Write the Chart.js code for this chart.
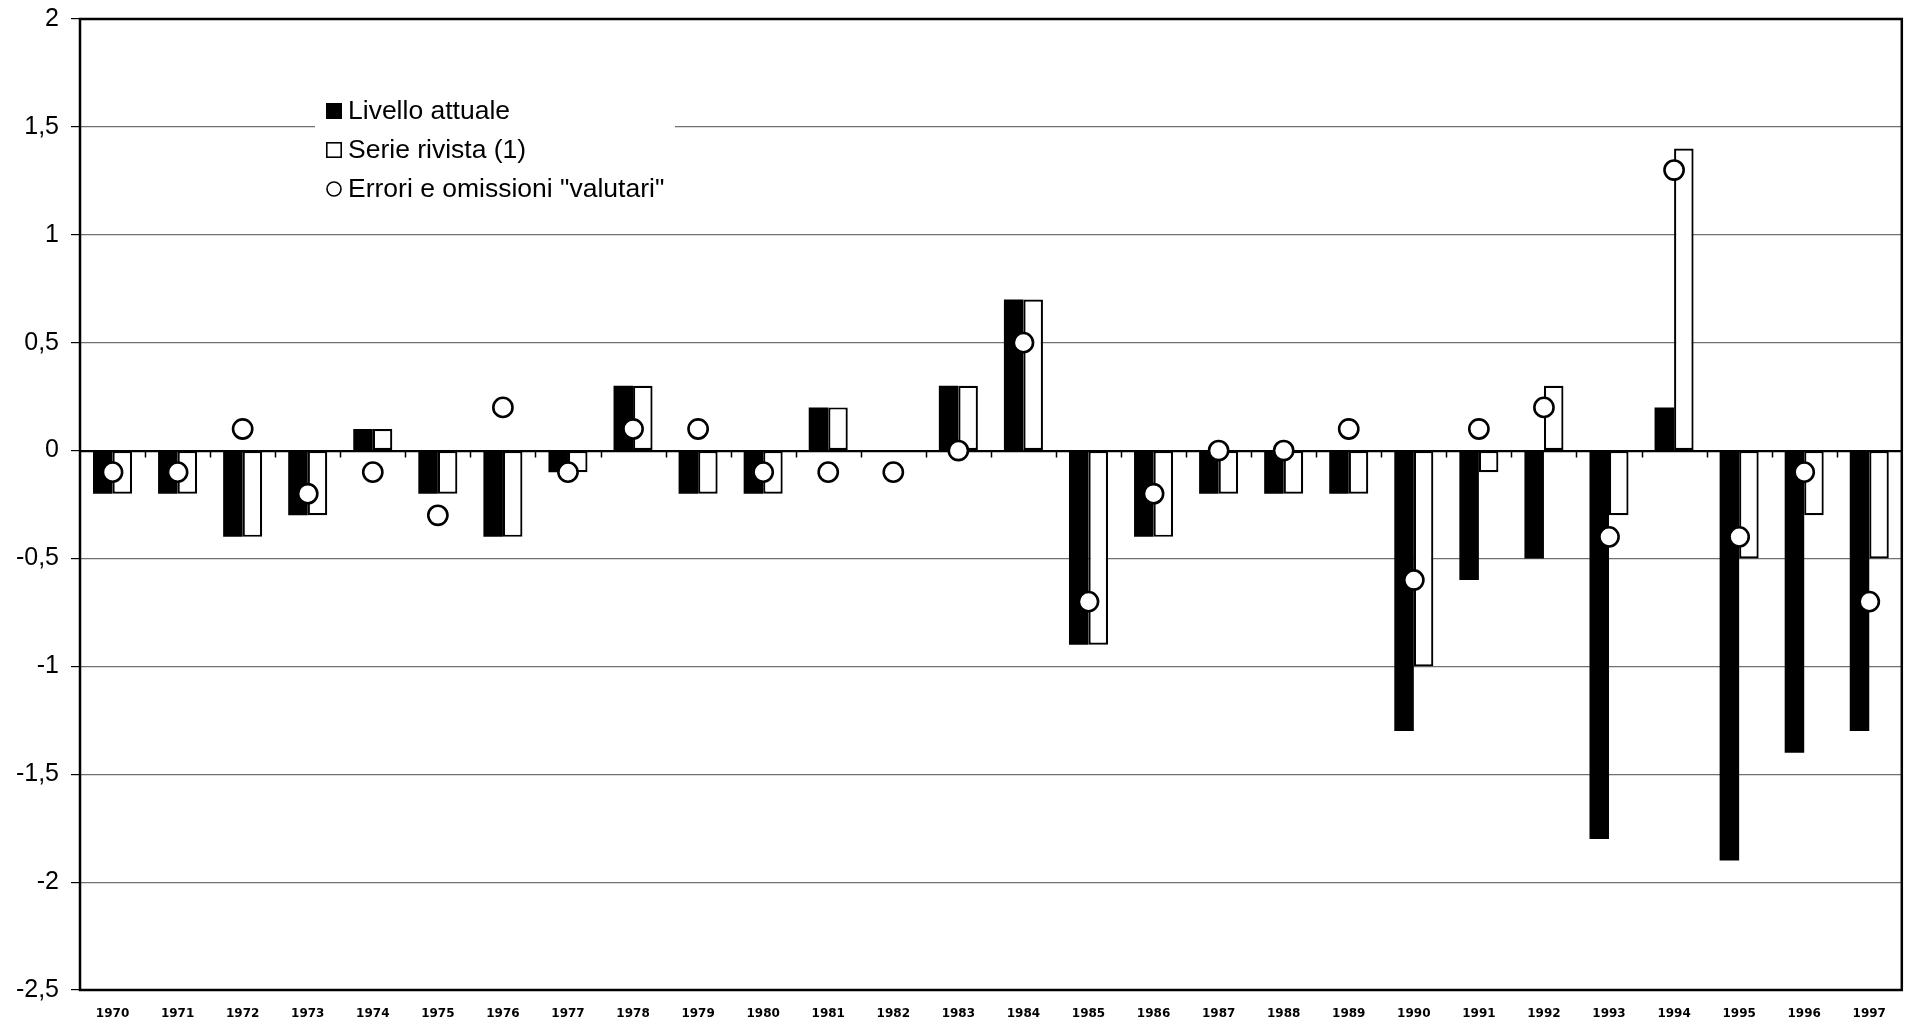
<!DOCTYPE html>
<html>
<head>
<meta charset="utf-8">
<script src="https://cdn.jsdelivr.net/npm/chart.js@4/dist/chart.umd.min.js"></script>
<style>
  html, body { margin: 0; padding: 0; background: #fff; }
  #c { display: block; }
</style>
</head>
<body>
<canvas id="c" width="1914" height="1024"></canvas>
<script>
// Anni
const years = ['1970','1971','1972','1973','1974','1975','1976','1977','1978','1979',
  '1980','1981','1982','1983','1984','1985','1986','1987','1988','1989',
  '1990','1991','1992','1993','1994','1995','1996','1997'];

// Livello attuale
const livelloAttuale = [-0.2,-0.2,-0.4,-0.3,0.1,-0.2,-0.4,-0.1,0.3,-0.2,
  -0.2,0.2,0,0.3,0.7,-0.9,-0.4,-0.2,-0.2,-0.2,
  -1.3,-0.6,-0.5,-1.8,0.2,-1.9,-1.4,-1.3];

// Serie rivista (1)
const serieRivista = [-0.2,-0.2,-0.4,-0.3,0.1,-0.2,-0.4,-0.1,0.3,-0.2,
  -0.2,0.2,0,0.3,0.7,-0.9,-0.4,-0.2,-0.2,-0.2,
  -1.0,-0.1,0.3,-0.3,1.4,-0.5,-0.3,-0.5];

// Errori e omissioni "valutari"
const erroriValutari = [-0.1,-0.1,0.1,-0.2,-0.1,-0.3,0.2,-0.1,0.1,0.1,
  -0.1,-0.1,-0.1,0.0,0.5,-0.7,-0.2,0.0,0.0,0.1,
  -0.6,0.1,0.2,-0.4,1.3,-0.4,-0.1,-0.7];

// Asse verticale
const yMin = -2.5;
const yMax = 2;
const yStep = 0.5;

// Linea dello zero con tacche tra le categorie, e cornice dell'area del grafico
const zeroAndFrame = {
  id: 'zeroAndFrame',
  beforeDatasetsDraw(chart) {
    const { ctx, chartArea: a, scales: { x, y } } = chart;
    const y0 = Math.round(y.getPixelForValue(0)) + 0.5;
    const step = x.getPixelForValue(1) - x.getPixelForValue(0);
    ctx.save();
    ctx.strokeStyle = '#000';
    ctx.lineWidth = 1.5;
    ctx.beginPath();
    ctx.moveTo(a.left, y0);
    ctx.lineTo(a.right, y0);
    for (let i = 1; i < years.length; i++) {
      const px = Math.round(x.getPixelForValue(i) - step / 2) + 0.5;
      ctx.moveTo(px, y0);
      ctx.lineTo(px, y0 + 6);
    }
    ctx.stroke();
    ctx.restore();
  },
  afterDatasetsDraw(chart) {
    const { ctx, chartArea: a } = chart;
    ctx.save();
    ctx.strokeStyle = '#000';
    ctx.lineWidth = 2.5;
    ctx.strokeRect(a.left, a.top, a.right - a.left, a.bottom - a.top);
    ctx.restore();
  }
};

// Legenda interna all'area del grafico, su fondo bianco
const innerLegend = {
  id: 'innerLegend',
  afterDraw(chart) {
    const { ctx } = chart;
    const ds = chart.data.datasets;
    const bx = 315, by = 92, bw = 360, bh = 116;
    ctx.save();
    ctx.fillStyle = '#fff';
    ctx.fillRect(bx, by, bw, bh);
    ctx.font = '26.5px "Liberation Sans", Arial, sans-serif';
    ctx.textBaseline = 'middle';
    ctx.textAlign = 'left';
    const rows = [111, 150, 189];
    ds.forEach((d, k) => {
      const cy = rows[k];
      const sx = 326, sz = 16;
      ctx.lineWidth = 1.6;
      ctx.strokeStyle = '#000';
      if (d.type === 'line') {
        ctx.beginPath();
        ctx.arc(sx + sz / 2, cy, sz / 2 - 1, 0, Math.PI * 2);
        ctx.fillStyle = '#fff';
        ctx.fill();
        ctx.stroke();
      } else if (d.backgroundColor === '#000') {
        ctx.fillStyle = '#000';
        ctx.fillRect(sx, cy - sz / 2, sz, sz);
      } else {
        ctx.fillStyle = '#fff';
        ctx.fillRect(sx, cy - sz / 2, sz, sz);
        ctx.strokeRect(sx + 0.8, cy - sz / 2 + 0.8, sz - 1.6, sz - 1.6);
      }
      ctx.fillStyle = '#000';
      ctx.fillText(d.label, 348, cy + 1);
    });
    ctx.restore();
  }
};

new Chart(document.getElementById('c'), {
  data: {
    labels: years,
    datasets: [
      {
        type: 'bar',
        label: 'Livello attuale',
        data: livelloAttuale,
        backgroundColor: '#000',
        borderWidth: 0,
        categoryPercentage: 0.6,
        barPercentage: 1.0,
        order: 1
      },
      {
        type: 'bar',
        label: 'Serie rivista (1)',
        data: serieRivista,
        backgroundColor: '#fff',
        borderColor: '#000',
        borderWidth: 2.2,
        borderSkipped: false,
        categoryPercentage: 0.6,
        barPercentage: 1.0,
        order: 2
      },
      {
        type: 'line',
        label: 'Errori e omissioni "valutari"',
        data: erroriValutari,
        showLine: false,
        pointStyle: 'circle',
        pointRadius: 9.6,
        pointBorderWidth: 2.6,
        pointBackgroundColor: '#fff',
        pointBorderColor: '#000',
        order: 0
      }
    ]
  },
  options: {
    responsive: false,
    animation: false,
    devicePixelRatio: 1,
    layout: { padding: { top: 19, right: 11, left: 0, bottom: 0 } },
    plugins: {
      legend: { display: false },
      tooltip: { enabled: false },
      title: { display: false }
    },
    scales: {
      x: {
        type: 'category',
        offset: true,
        grid: { display: false, drawTicks: false },
        border: { display: false },
        ticks: {
          color: '#000',
          font: { family: '"DejaVu Sans", sans-serif', size: 12, weight: 'bold' },
          padding: 17,
          maxRotation: 0,
          autoSkip: false
        },
        afterFit(scale) { scale.height = 34; scale.paddingLeft = 0; scale.paddingRight = 0; }
      },
      y: {
        min: yMin,
        max: yMax,
        border: { display: false },
        grid: {
          color: (c) => (c.tick && c.tick.value === 0) ? '#000' : '#707070',
          lineWidth: 1.2,
          tickColor: '#000',
          tickLength: 9,
          drawTicks: true
        },
        ticks: {
          stepSize: yStep,
          color: '#000',
          padding: 12,
          font: { family: '"Liberation Sans", Arial, sans-serif', size: 25 },
          callback: (v) => String(v).replace('.', ',')
        },
        afterFit(scale) { scale.width = 80; scale.paddingTop = 0; scale.paddingBottom = 0; }
      }
    }
  },
  plugins: [zeroAndFrame, innerLegend]
});
</script>
</body>
</html>
